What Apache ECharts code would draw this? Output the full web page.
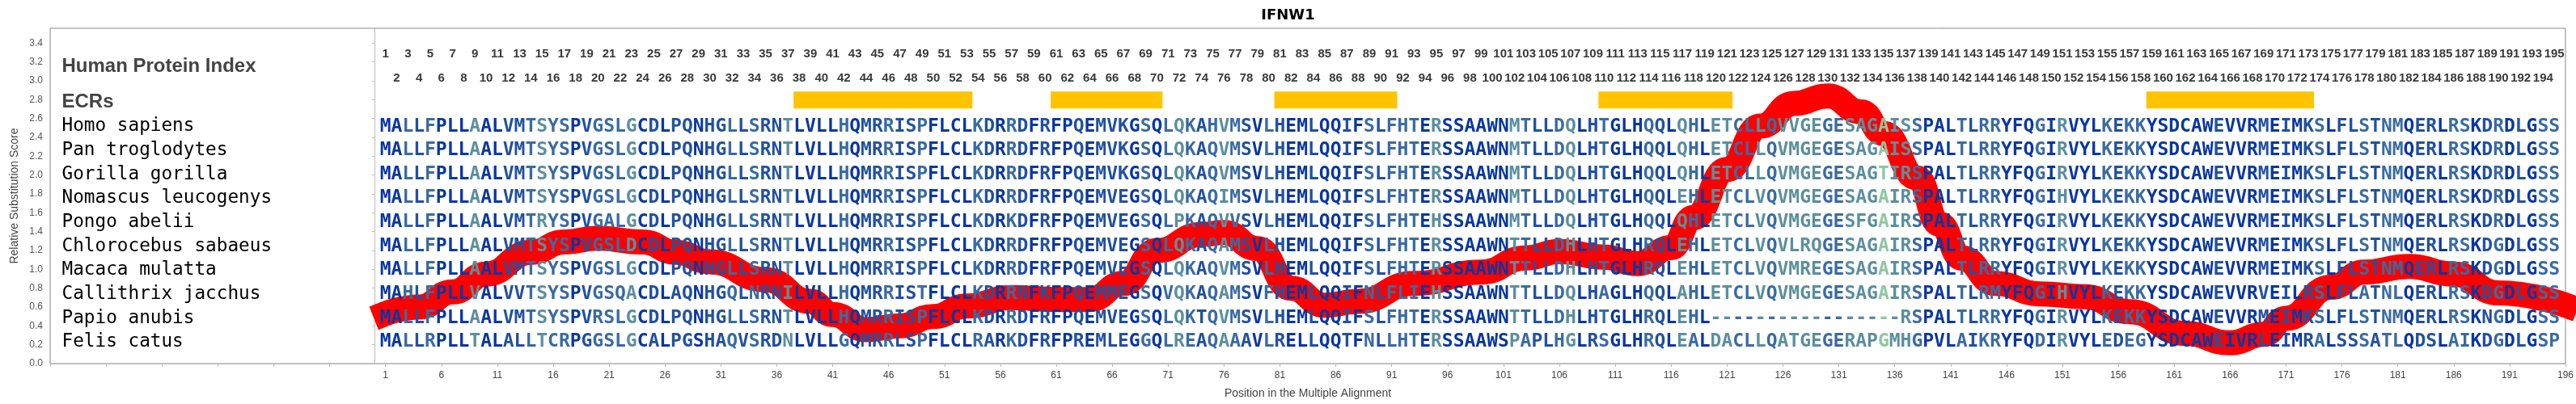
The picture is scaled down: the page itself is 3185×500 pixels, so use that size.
<!DOCTYPE html>
<html><head><meta charset="utf-8">
<script src="https://cdn.jsdelivr.net/npm/echarts@6/dist/echarts.min.js"></script>
<style>html,body{margin:0;padding:0;background:#fff}#c{width:3185px;height:500px}</style>
</head><body><div id="c"></div>
<script>
// ---------------- DATA ----------------
const chartTitle = 'IFNW1';
const species = ['Homo sapiens','Pan troglodytes','Gorilla gorilla','Nomascus leucogenys','Pongo abelii',
  'Chlorocebus sabaeus','Macaca mulatta','Callithrix jacchus','Papio anubis','Felis catus'];
const sequences = [
  'MALLFPLLAALVMTSYSPVGSLGCDLPQNHGLLSRNTLVLL'+'HQMRRISPFLCLKDRRDFRFPQEMVKGSQLQKAHVMSVLHE'+'MLQQIFSLFHTERSSAAWNMTLLDQLHTGLHQQLQHLETCLLQ'+'VVGEGESAGAISSPALTLRRYFQGIRVYLKEKKYSDCAWEVVRM'+'EIMKSLFLSTNMQERLRSKDRDLGSS',
  'MALLFPLLAALVMTSYSPVGSLGCDLPQNHGLLSRNTLVLL'+'HQMRRISPFLCLKDRRDFRFPQEMVKGSQLQKAQVMSVLHE'+'MLQQIFSLFHTERSSAAWNMTLLDQLHTGLHQQLQHLETCLLQ'+'VMGEGESAGAISSPALTLRRYFQGIRVYLKEKKYSDCAWEVVRM'+'EIMKSLFLSTNMQERLRSKDRDLGSS',
  'MALLFPLLAALVMTSYSPVGSLGCDLPQNHGLLSRNTLVLL'+'HQMRRISPFLCLKDRRDFRFPQEMVKGSQLQKAQVMSVLHE'+'MLQQIFSLFHTERSSAAWNMTLLDQLHTGLHQQLQHLETCLLQ'+'VMGEGESAGTIRSPALTLRRYFQGIRVYLKEKKYSDCAWEVVRM'+'EIMKSLFLSTNMQERLRSKDRDLGSS',
  'MALLFPLLAALVMTSYSPVGSLGCDLPQNHGLLSRNTLVLL'+'HQMRRISPFLCLKDRRDFRFPQEMVEGSQLQKAQIMSVLHE'+'MLQQIFSLFHTERSSAAWNMTLLDQLHTGLHQQLEHLETCLVQ'+'VMGEGESAGAIRSPALTLRRYFQGIHVYLKEKKYSDCAWEVVRM'+'EIMKSLFLSTNMQERLRSKDRDLGSS',
  'MALLFPLLAALVMTRYSPVGALGCDLPQNHGLLSRNTLVLL'+'HQMRRISPFLCLKDRKDFRFPQEMVEGSQLPKAQVVSVLHE'+'MLQQIFSLFHTEHSSAAWNMTLLDQLHTGLHQQLQHLETCLVQ'+'VMGEGESFGAIRSPALTLRRYFQGIRVYLKEKKYSDCAWEVVRM'+'EIMKSLFLSTNMQERLRSKDRDLGSS',
  'MALLFPLLAALVMTSYSPVGSLDCDLPQNHGLLSRNTLVLL'+'HQMRRISPFLCLKDRRDFRFPQEMVEGSQLQKAQAMSVLHE'+'MLQQIFSLFHTERSSAAWNTTLLDHLHTGLHRQLEHLETCLVQ'+'VLRQGESAGAIRSPALTLRRYFQGIRVYLKEKKYSDCAWEVVRM'+'EIMKSLFLSTNMQERLRSKDGDLGSS',
  'MALLFPLLAALVMTSYSPVGSLGCDLPQNHGLLSRNTLVLL'+'HQMRRISPFLCLKDRRDFRFPQEMVEGSQLQKAQVMSVLHE'+'MLQQIFSLFHTERSSAAWNTTLLDHLHTGLHRQLEHLETCLVQ'+'VMREGESAGAIRSPALTLRRYFQGIRVYLKEKKYSDCAWEVVRM'+'EIMKSLFLSTNMQERLRSKDGDLGSS',
  'MAHLFPLLVALVVTSYSPVGSQACDLAQNHGQLNRNILVLL'+'HQMRRISTFLCLKDRRNFKFPQEMMEGSQVQKAQAMSVFHE'+'MLQQIFNLFLIEHSSAAWNTTLLDQLHAGLHQQLAHLETCLVQ'+'VMGEGESAGAIRSPALTLRMYFQGIHVYLKEKKYSDCAWEVVRV'+'EILRSLFLATNLQERLRSKDGDLGSS',
  'MALLFPLLAALVMTSYSPVRSLGCDLPQNHGLLSRNTLVLL'+'HQMRRISPFLCLKDRRDFRFPQEMVEGSQLQKTQVMSVLHE'+'MLQQIFSLFHTERSSAAWNTTLLDHLHTGLHRQLEHL------'+'-----------RSPALTLRRYFQGIRVYLKEKKYSDCAWEVVRM'+'EIMKSLFLSTNMQERLRSKNGDLGSS',
  'MALLRPLLTALALLTCRPGGSLGCALPGSHAQVSRDNLVLL'+'GQMRRLSPFLCLRARKDFRFPREMLEGGQLREAQAAAVLRE'+'LLQQTFNLLHTERSSAAWSPAPLHGLRSGLHRQLEALDACLLQ'+'ATGEGERAPGMHGPVLAIKRYFQDIRVYLEDEGYSDCAWEIVRL'+'EIMRALSSSATLQDSLAIKDGDLGSP'
];
// conservation class of each alignment column (0 = most conserved / darkest blue ... 4 = light green)
const columnLevels = [
  0,0,2,1,2,0,0,0,3,0, 0,1,1,2,3,2,2,0,1,2, 2,2,3,0,1,0,1,1,0,1, 1,2,1,2,1,1,3,0,0,0,
  0,2,0,1,1,2,1,1,2,0, 0,0,0,2,1,0,2,1,0,1, 0,0,1,0,1,1,1,0,2,0, 2,3,2,1,2,3,2,1,0,2,
  1,0,0,1,0,0,1,0,2,1, 2,2,2,0,3,0,0,0,0,0, 0,3,2,1,1,2,3,0,1,2, 0,0,0,2,1,0,3,2,0,3,
  3,2,2,3,2,3,3,3,3,2, 2,3,3,3,4,3,3,2,0,0, 0,2,1,2,2,0,0,0,2,0, 3,0,0,0,2,1,2,2,0,0,
  0,0,0,0,1,0,0,0,1,0, 1,0,1,2,0,1,1,2,1,2, 2,0,1,1,0,2,2,0,1,2, 0,1,0,2,2
];
const ecrRanges = [[38,53],[61,70],[81,91],[110,121],[159,173]];
const curvePositions = [1,4,7,10,14,17,20,24,27,30,35,39,41,44,47,50,53,57,61,64,67,70,74,76,79,82,85,88,93,99,
  103,106,110,113,116,118,121,124,127,130,133,135,138,140,142,145,149,153,157,162,166,169,171,175,178,182,186,190,196];
const curveScores = [0.53,0.60,0.76,0.95,1.18,1.29,1.33,1.29,1.18,1.08,0.89,0.66,0.52,0.36,0.40,0.50,0.61,0.70,0.68,0.68,
  0.85,1.20,1.37,1.39,1.22,0.80,0.62,0.66,0.85,0.97,1.12,1.19,1.13,1.06,1.23,1.55,2.06,2.52,2.76,2.84,
  2.67,2.44,1.97,1.48,1.12,0.85,0.74,0.71,0.55,0.32,0.22,0.31,0.48,0.81,0.97,1.03,0.95,0.75,0.62];
const xTickLabels = [1,6,11,16,21,26,31,36,41,46,51,56,61,66,71,76,81,86,91,96,101,106,111,116,121,126,131,136,141,146,151,156,161,166,171,176,181,186,191,196];
const xExtraTicks = [-29,-24,-19,-14,-9,-4];
const yTickLabels = [0,0.2,0.4,0.6,0.8,1.0,1.2,1.4,1.6,1.8,2.0,2.2,2.4,2.6,2.8,3.0,3.2,3.4];
const headerLabels = ['Human Protein Index','ECRs'];

// ---------------- LAYOUT / STYLE ----------------
const X_MIN = -29, X_MAX = 196, Y_MIN = 0, Y_MAX = 3.557;
const ROW0_Y = 2.515, ROW_STEP = 0.254;
const ODD_IDX_Y = 3.285, EVEN_IDX_Y = 3.023;
const HEADER_Y = [3.148, 2.771];
const LABEL_X = -27.95;
const ECR_Y = 2.796, ECR_H = 0.18;
const palette = ['#0a37a0','#22519f','#3a6ba2','#5b8f9f','#8fc89f'];
const rowY = r => ROW0_Y - r * ROW_STEP;
const AXIS_FONT = '"Liberation Sans", Arial, sans-serif';

const letterData = [], letterChars = [];
sequences.forEach((s, r) => {
  for (let i = 0; i < s.length; i++) {
    letterData.push([i + 1, rowY(r), columnLevels[i]]);
    letterChars.push(s[i]);
  }
});
const nCols = sequences[0].length;
const indexData = [];
for (let i = 1; i <= nCols; i++) indexData.push([i, i % 2 ? ODD_IDX_Y : EVEN_IDX_Y]);
const textData = [], textItems = [];
headerLabels.forEach((t, k) => { textData.push([LABEL_X, HEADER_Y[k]]); textItems.push({t, kind: 'h'}); });
species.forEach((t, r) => { textData.push([LABEL_X, rowY(r)]); textItems.push({t, kind: 's'}); });

const chart = echarts.init(document.getElementById('c'), null, {renderer: 'canvas'});
chart.setOption({
  animation: false,
  backgroundColor: '#fff',
  title: {text: chartTitle, left: 'center', top: 5,
    textStyle: {fontFamily: 'DejaVu Sans', fontWeight: 'bold', fontSize: 18, color: '#000'}},
  grid: {left: 62, right: 12, top: 35, bottom: 50, show: true, borderColor: '#888', borderWidth: 1, backgroundColor: '#fff'},
  xAxis: {
    type: 'value', min: X_MIN, max: X_MAX, offset: 3,
    name: 'Position in the Multiple Alignment', nameLocation: 'middle', nameGap: 27,
    nameTextStyle: {fontFamily: AXIS_FONT, fontSize: 14, color: '#444'},
    axisLine: {show: true, lineStyle: {color: '#bbb'}},
    axisTick: {show: true, length: 4, lineStyle: {color: '#bbb'}, customValues: xExtraTicks.concat(xTickLabels)},
    axisLabel: {customValues: xTickLabels, fontFamily: AXIS_FONT, fontSize: 12, color: '#444', margin: 6},
    splitLine: {show: false}
  },
  yAxis: {
    type: 'value', min: Y_MIN, max: Y_MAX, offset: 4,
    name: 'Relative Substitution Score', nameLocation: 'middle', nameGap: 32,
    nameTextStyle: {fontFamily: AXIS_FONT, fontSize: 14, color: '#444'},
    axisLine: {show: true, lineStyle: {color: '#bbb'}},
    axisTick: {show: true, length: 3, lineStyle: {color: '#bbb'}, customValues: yTickLabels},
    axisLabel: {customValues: yTickLabels, formatter: v => v.toFixed(1), fontFamily: AXIS_FONT, fontSize: 12, color: '#555', margin: 5},
    splitLine: {show: false}
  },
  series: [
    { // ECR bars
      type: 'custom', data: ecrRanges, z: 2, silent: true,
      encode: {x: [0, 1]},
      renderItem(params, api) {
        const a = api.coord([api.value(0) - 0.5, ECR_Y + ECR_H / 2]);
        const b = api.coord([api.value(1) + 0.5, ECR_Y - ECR_H / 2]);
        return {type: 'rect', shape: {x: a[0], y: a[1], width: b[0] - a[0], height: b[1] - a[1]}, style: {fill: '#ffc400'}};
      }
    },
    { // substitution curve
      type: 'line', data: curvePositions.map((p, i) => [p, curveScores[i]]), z: 3, silent: true,
      smooth: 0.5, smoothMonotone: 'x', symbol: 'none', clip: true,
      lineStyle: {color: '#ff0000', width: 31, cap: 'square', join: 'round'}
    },
    { // alignment letters
      type: 'custom', data: letterData, z: 5, silent: true,
      encode: {x: 0, y: 1},
      renderItem(params, api) {
        const p = api.coord([api.value(0), api.value(1)]);
        return {type: 'text', x: p[0], y: p[1], style: {text: letterChars[params.dataIndex],
          fill: palette[api.value(2)], font: 'bold 23px "DejaVu Sans Mono"', align: 'center', verticalAlign: 'middle'}};
      }
    },
    { // human protein index numbers
      type: 'custom', data: indexData, z: 5, silent: true,
      encode: {x: 0, y: 1},
      renderItem(params, api) {
        const p = api.coord([api.value(0), api.value(1)]);
        return {type: 'text', x: p[0], y: p[1], style: {text: String(api.value(0)),
          fill: '#3a3a3a', font: 'bold 15px "Liberation Sans Narrow", "Liberation Sans", sans-serif', align: 'center', verticalAlign: 'middle'}};
      }
    },
    { // row and header labels
      type: 'custom', data: textData, z: 5, silent: true,
      encode: {x: 0, y: 1},
      renderItem(params, api) {
        const p = api.coord([api.value(0), api.value(1)]);
        const it = textItems[params.dataIndex];
        const font = it.kind === 'h' ? 'bold 24px "Liberation Sans", Arial, sans-serif' : '22.7px "DejaVu Sans Mono", monospace';
        return {type: 'text', x: p[0], y: p[1], style: {text: it.t, fill: it.kind === 'h' ? '#444' : '#000',
          font, align: 'left', verticalAlign: 'middle'}};
      }
    }
  ]
});
</script></body></html>
